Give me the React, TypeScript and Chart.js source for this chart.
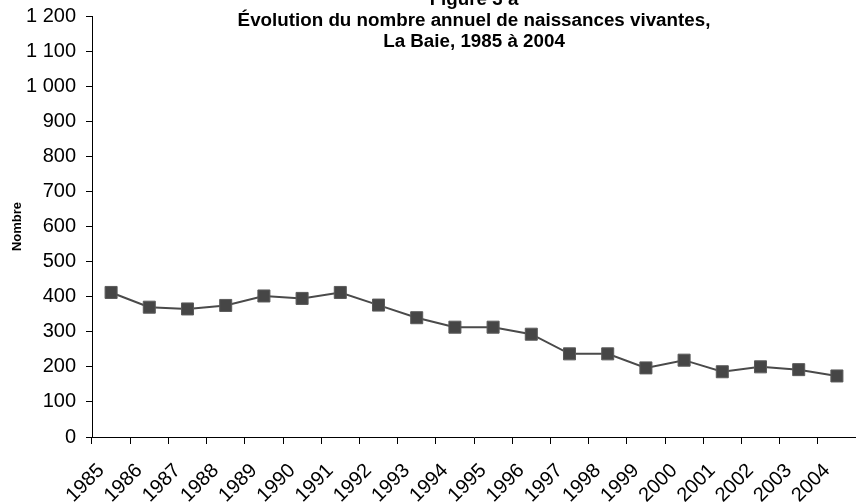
import React, { useEffect, useRef } from "react";
import { Chart, registerables } from "chart.js";

Chart.register(...registerables);

const years: string[] = [
  "1985", "1986", "1987", "1988", "1989", "1990", "1991", "1992", "1993", "1994",
  "1995", "1996", "1997", "1998", "1999", "2000", "2001", "2002", "2003", "2004",
];
const births: number[] = [
  412, 370, 365, 375, 402, 395, 412, 376, 340, 313,
  313, 293, 237, 237, 197, 219, 186, 200, 192, 174,
];
const titleLines: string[] = [
  "Figure 3 a",
  "Évolution du nombre annuel de naissances vivantes,",
  "La Baie, 1985 à 2004",
];
const yAxisTitle = "Nombre";
const yMin = 0;
const yMax = 1200;
const yStep = 100;

const FONT = "'Liberation Sans', Arial, Helvetica, sans-serif";

function fmt(v: number): string {
  const s = String(Math.round(v));
  return s.replace(/\B(?=(\d{3})+(?!\d))/g, " ");
}

const titlePlugin = {
  id: "multiTitle",
  afterDraw(chart: any) {
    const { ctx, chartArea } = chart;
    const cx = (chartArea.left + chartArea.right) / 2;
    ctx.save();
    ctx.fillStyle = "#000";
    ctx.font = `bold 18.8px ${FONT}`;
    ctx.textAlign = "center";
    ctx.textBaseline = "alphabetic";
    const baselines = [4.5, 25.5, 47];
    titleLines.forEach((t, i) => ctx.fillText(t, cx, baselines[i]));
    ctx.restore();
  },
};

export default function App() {
  const ref = useRef<HTMLCanvasElement | null>(null);
  useEffect(() => {
    if (!ref.current) return;
    const chart = new Chart(ref.current, {
      type: "line",
      data: {
        labels: years,
        datasets: [
          {
            data: births,
            borderColor: "#4a4a4a",
            borderWidth: 2,
            backgroundColor: "#464646",
            pointStyle: "rect",
            pointRadius: 8.5,
            pointBorderWidth: 1,
            pointBorderColor: "#5a5a5a",
            pointBackgroundColor: "#464646",
            tension: 0,
          },
        ],
      },
      options: {
        responsive: false,
        animation: false,
        layout: { autoPadding: false, padding: { top: 16, left: 0, right: 0, bottom: 0 } },
        plugins: {
          legend: { display: false },
          tooltip: { enabled: false },
          title: { display: false },
        },
        scales: {
          x: {
            type: "category",
            offset: true,
            grid: {
              offset: true,
              drawOnChartArea: false,
              drawTicks: true,
              tickLength: 7,
              color: "#000",
            },
            border: { display: true, color: "#000", width: 1 },
            ticks: {
              autoSkip: false,
              minRotation: 45,
              maxRotation: 45,
              color: "#000",
              padding: 15,
              labelOffset: -10,
              font: { family: FONT, size: 20 },
            },
            afterFit: (s: any) => {
              s.height = 67;
              s.paddingLeft = 0;
              s.paddingRight = 0;
            },
          },
          y: {
            min: yMin,
            max: yMax,
            ticks: {
              stepSize: yStep,
              color: "#000",
              padding: 10,
              font: { family: FONT, size: 20 },
              callback: (v: any) => fmt(Number(v)),
            },
            grid: {
              drawOnChartArea: false,
              drawTicks: true,
              tickLength: 6,
              color: "#000",
            },
            border: { display: true, color: "#000", width: 1 },
            title: {
              display: true,
              text: yAxisTitle,
              color: "#000",
              font: { family: FONT, size: 13, weight: "bold" },
              padding: { top: 10, bottom: 0 },
            },
            afterFit: (s: any) => {
              s.width = 92;
              s.paddingTop = 0;
              s.paddingBottom = 0;
            },
          },
        },
      },
      plugins: [titlePlugin],
    });
    return () => chart.destroy();
  }, []);
  return (
    <div style={{ position: "absolute", left: 0, top: 0, width: 856, height: 504, background: "#fff" }}>
      <canvas ref={ref} width={856} height={504} style={{ display: "block", width: 856, height: 504 }} />
    </div>
  );
}
